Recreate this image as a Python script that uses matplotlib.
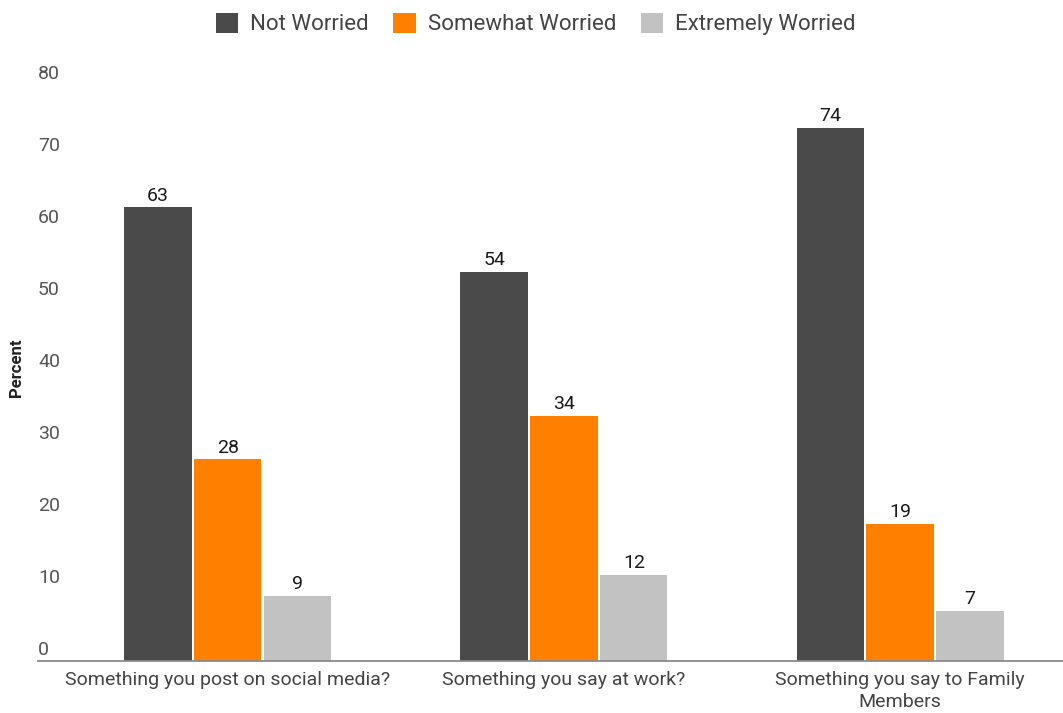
import matplotlib.pyplot as plt
import matplotlib.transforms as mtransforms
from matplotlib.patches import Patch
import numpy as np

plt.rcParams['font.family'] = ['Roboto', 'DejaVu Sans']

categories = ["Something you post on social media?", "Something you say at work?",
              "Something you say to Family\nMembers"]
series = ["Not Worried", "Somewhat Worried", "Extremely Worried"]
not_worried = [63, 54, 74]
somewhat_worried = [28, 34, 19]
extremely_worried = [9, 12, 7]
yticks = [0, 10, 20, 30, 40, 50, 60, 70, 80]

colors = ["#4a4a4a", "#ff8000", "#c2c2c2"]

fig = plt.figure(figsize=(10.63, 7.13), dpi=100)
ax = fig.add_axes([38 / 1063, 52 / 713, 1 - 38 / 1063, (661 - 85) / 713])

x = np.arange(len(categories))
w = 0.2
pitch = 0.208
values = [not_worried, somewhat_worried, extremely_worried]
for i, vals in enumerate(values):
    pos = x + (i - 1) * pitch
    ax.bar(pos, vals, width=w, color=colors[i], zorder=2)
    for p, v in zip(pos, vals):
        ax.annotate(str(v), (p, v), xytext=(0, 2), textcoords='offset points',
                    ha='center', va='bottom', fontsize=14, color='#1a1a1a')

ax.set_xlim(-0.565, 2.485)
ax.set_ylim(0, 80)

for s in ['top', 'right', 'left']:
    ax.spines[s].set_visible(False)
ax.spines['bottom'].set_color('#8a8a8a')
ax.spines['bottom'].set_linewidth(1.3)

# y labels sit just above their value, left aligned
ax.set_yticks([])
trans = mtransforms.blended_transform_factory(ax.transAxes, ax.transData)
trans = trans + mtransforms.ScaledTranslation(0, 1.5 / 72, fig.dpi_scale_trans)
for t in yticks:
    ax.text(0, t, str(t), transform=trans, ha='left', va='bottom',
            fontsize=14, color='#555555')

ax.set_xticks(x)
ax.set_xticklabels(categories, fontsize=14, color='#444444', linespacing=1.3)
ax.tick_params(axis='x', length=0, pad=7)

fig.text(17 / 1063, 1 - 368 / 713, "Percent", rotation=90, ha='center', va='center',
         fontsize=12, fontweight='bold', color='#222222')

handles = [Patch(facecolor=c, edgecolor='none') for c in colors]
fig.legend(handles, series, loc='upper center', bbox_to_anchor=(0.504, 1.01), ncol=3,
           frameon=False, fontsize=16, handlelength=1.0, handleheight=1.0,
           handletextpad=0.55, columnspacing=1.1, labelcolor='#444444')

fig.savefig('out.png', dpi=100)
